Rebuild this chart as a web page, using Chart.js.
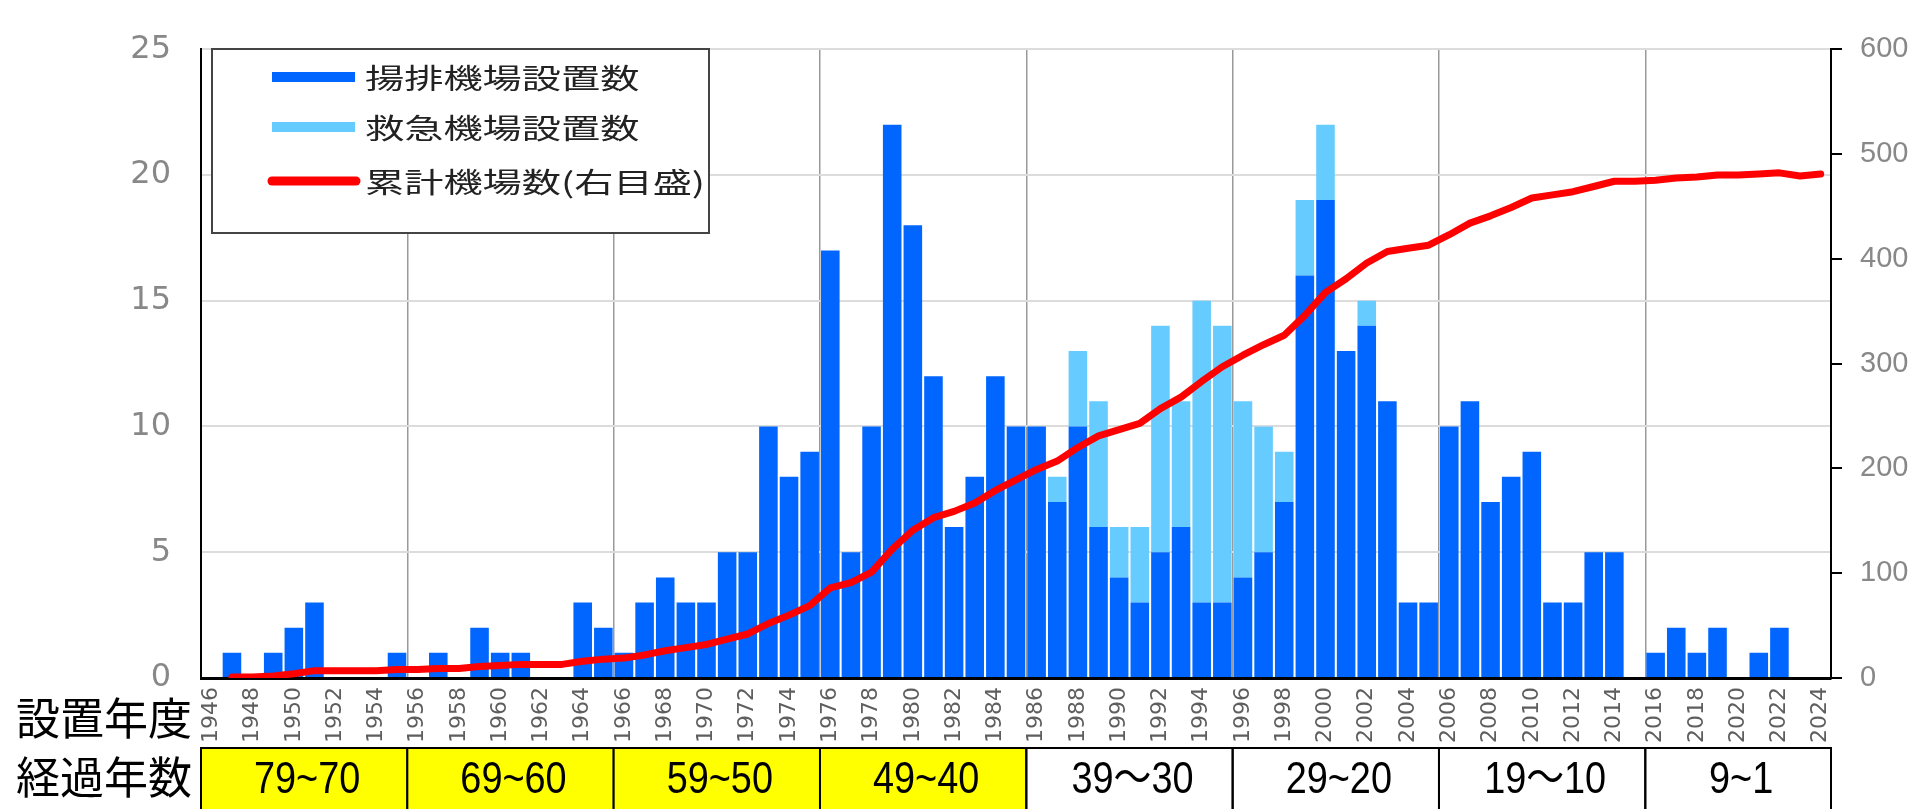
<!DOCTYPE html>
<html lang="ja">
<head>
<meta charset="UTF-8">
<title>機場設置数の推移</title>
<script src="https://cdn.jsdelivr.net/npm/chart.js@4.4.1/dist/chart.umd.min.js"></script>
<style>
  html, body { margin: 0; padding: 0; background: #fff; }
  #wrap { width: 1923px; height: 809px; }
</style>
</head>
<body>
<div id="wrap"><canvas id="kijoChart" width="1923" height="809"></canvas></div>
<script>
// 設置年度
const years = [
  1946, 1947, 1948, 1949, 1950, 1951, 1952, 1953, 1954, 1955,
  1956, 1957, 1958, 1959, 1960, 1961, 1962, 1963, 1964, 1965,
  1966, 1967, 1968, 1969, 1970, 1971, 1972, 1973, 1974, 1975,
  1976, 1977, 1978, 1979, 1980, 1981, 1982, 1983, 1984, 1985,
  1986, 1987, 1988, 1989, 1990, 1991, 1992, 1993, 1994, 1995,
  1996, 1997, 1998, 1999, 2000, 2001, 2002, 2003, 2004, 2005,
  2006, 2007, 2008, 2009, 2010, 2011, 2012, 2013, 2014, 2015,
  2016, 2017, 2018, 2019, 2020, 2021, 2022, 2023, 2024
];

// 揚排機場設置数
const yohaiCounts = [
  0, 1, 0, 1, 2, 3, 0, 0, 0, 1,
  0, 1, 0, 2, 1, 1, 0, 0, 3, 2,
  1, 3, 4, 3, 3, 5, 5, 10, 8, 9,
  17, 5, 10, 22, 18, 12, 6, 8, 12, 10,
  10, 7, 10, 6, 4, 3, 5, 6, 3, 3,
  4, 5, 7, 16, 19, 13, 14, 11, 3, 3,
  10, 11, 7, 8, 9, 3, 3, 5, 5, 0,
  1, 2, 1, 2, 0, 1, 2, 0, 0
];

// 救急機場設置数
const kyukyuCounts = [
  0, 0, 0, 0, 0, 0, 0, 0, 0, 0,
  0, 0, 0, 0, 0, 0, 0, 0, 0, 0,
  0, 0, 0, 0, 0, 0, 0, 0, 0, 0,
  0, 0, 0, 0, 0, 0, 0, 0, 0, 0,
  0, 1, 3, 5, 2, 3, 9, 5, 12, 11,
  7, 5, 2, 3, 3, 0, 1, 0, 0, 0,
  0, 0, 0, 0, 0, 0, 0, 0, 0, 0,
  0, 0, 0, 0, 0, 0, 0, 0, 0
];

// 累計機場数（右目盛）
const totalStations = [
  null, 1, 1, 2, 4, 7, 7, 7, 7, 8,
  8, 9, 9, 11, 12, 13, 13, 13, 16, 18,
  19, 22, 26, 29, 32, 37, 42, 52, 60, 69,
  86, 91, 101, 123, 141, 153, 159, 167, 179, 189,
  199, 207, 220, 231, 237, 243, 257, 268, 283, 297,
  308, 318, 327, 346, 368, 381, 396, 407, 410, 413,
  423, 434, 441, 449, 458, 461, 464, 469, 474, 474,
  475, 477, 478, 480, 480, 481, 482, 479, 481
];

// 経過年数の表
const ageLabels = ['79~70', '69~60', '59~50', '49~40', '39～30', '29~20', '19～10', '9~1'];
const ageStartYears = [1946, 1956, 1966, 1976, 1986, 1996, 2006, 2016];
const ageHighlight = [true, true, true, true, false, false, false, false];

const seriesNames = ['揚排機場設置数', '救急機場設置数', '累計機場数(右目盛)'];

const BLUE = '#0066ff';
const LIGHT_BLUE = '#66ccff';
const RED = '#ff0000';

// 凡例（グラフ内の枠）
const boxLegend = {
  id: 'boxLegend',
  afterDraw(chart) {
    const ctx = chart.ctx;
    ctx.save();
    ctx.fillStyle = '#fff';
    ctx.fillRect(212, 49, 497, 184);
    ctx.strokeStyle = '#444';
    ctx.lineWidth = 2;
    ctx.strokeRect(212, 49, 497, 184);

    const rows = [77, 127, 181];
    ctx.fillStyle = BLUE;
    ctx.fillRect(272, rows[0] - 5, 83, 10);
    ctx.fillStyle = LIGHT_BLUE;
    ctx.fillRect(272, rows[1] - 5, 83, 10);
    ctx.strokeStyle = RED;
    ctx.lineWidth = 9;
    ctx.lineCap = 'round';
    ctx.beginPath();
    ctx.moveTo(272, rows[2]);
    ctx.lineTo(356, rows[2]);
    ctx.stroke();

    ctx.fillStyle = '#222';
    ctx.font = '28px "Noto Sans CJK JP"';
    ctx.textBaseline = 'middle';
    ctx.textAlign = 'left';
    seriesNames.forEach((name, i) => {
      ctx.save();
      ctx.translate(365, rows[i]);
      ctx.scale(1.4, 1);
      ctx.fillText(name, 0, 1);
      ctx.restore();
    });
    ctx.restore();
  }
};

// 下の表（設置年度・経過年数）
const ageTable = {
  id: 'ageTable',
  afterDraw(chart) {
    const ctx = chart.ctx;
    const x = chart.scales.x;
    ctx.save();
    ctx.fillStyle = '#000';
    ctx.font = '44px "Noto Sans CJK JP"';
    ctx.textAlign = 'left';
    ctx.textBaseline = 'middle';
    ctx.fillText('設置年度', 16, 718);
    ctx.fillText('経過年数', 16, 777);

    const top = 748, bottom = 812;
    ageLabels.forEach((label, i) => {
      const startIdx = years.indexOf(ageStartYears[i]);
      const endIdx = i < ageStartYears.length - 1 ? years.indexOf(ageStartYears[i + 1]) : years.length;
      const left = x.getPixelForValue(startIdx - 0.5);
      const right = x.getPixelForValue(endIdx - 0.5);
      if (ageHighlight[i]) {
        ctx.fillStyle = '#ffff00';
        ctx.fillRect(left, top, right - left, bottom - top);
      }
      ctx.strokeStyle = '#000';
      ctx.lineWidth = 2;
      ctx.strokeRect(left, top, right - left, bottom - top);
      ctx.fillStyle = '#000';
      ctx.font = '44px "Liberation Sans", "Noto Sans CJK JP"';
      ctx.textAlign = 'center';
      ctx.save();
      ctx.translate((left + right) / 2 + 3, 781);
      ctx.scale(0.86, 1);
      ctx.fillText(label, 0, 0);
      ctx.restore();
    });
    ctx.restore();
  }
};

new Chart(document.getElementById('kijoChart'), {
  data: {
    labels: years,
    datasets: [
      {
        type: 'line',
        label: seriesNames[2],
        data: totalStations,
        yAxisID: 'y1',
        borderColor: RED,
        borderWidth: 7,
        pointRadius: 0,
        tension: 0,
        borderJoinStyle: 'round',
        borderCapStyle: 'round',
        order: 0
      },
      {
        type: 'bar',
        label: seriesNames[0],
        data: yohaiCounts,
        yAxisID: 'y',
        backgroundColor: BLUE,
        barPercentage: 0.9,
        categoryPercentage: 1.0,
        order: 1
      },
      {
        type: 'bar',
        label: seriesNames[1],
        data: kyukyuCounts,
        yAxisID: 'y',
        backgroundColor: LIGHT_BLUE,
        barPercentage: 0.9,
        categoryPercentage: 1.0,
        order: 1
      }
    ]
  },
  options: {
    responsive: false,
    animation: false,
    devicePixelRatio: 1,
    layout: { padding: { top: 22, left: 0, right: 0, bottom: 0 } },
    plugins: {
      legend: { display: false },
      tooltip: { enabled: false },
      title: { display: false }
    },
    scales: {
      x: {
        stacked: true,
        offset: true,
        afterFit: (scale) => { scale.height = 131; },
        grid: {
          offset: true,
          drawTicks: false,
          lineWidth: 1.5,
          color: (c) => (c.index !== undefined && c.index > 0 && c.index % 10 === 0) ? '#999' : 'rgba(0,0,0,0)'
        },
        border: { display: true, color: '#000', width: 3 },
        ticks: {
          autoSkip: false,
          minRotation: 90,
          maxRotation: 90,
          padding: 9,
          color: '#5e5e5e',
          font: { family: '"DejaVu Sans"', size: 22 },
          callback: (val, idx) => idx % 2 === 0 ? String(years[idx]) : ''
        }
      },
      y: {
        position: 'left',
        stacked: true,
        min: 0,
        max: 25,
        afterFit: (scale) => { scale.width = 201; },
        grid: { drawTicks: false, color: '#dcdcdc', lineWidth: 2 },
        border: { display: true, color: '#000', width: 2 },
        ticks: {
          stepSize: 5,
          padding: 30,
          color: '#888',
          font: { family: '"DejaVu Sans"', size: 32 }
        }
      },
      y1: {
        position: 'right',
        min: 0,
        max: 600,
        afterFit: (scale) => { scale.width = 92; },
        grid: { drawOnChartArea: false, drawTicks: true, tickLength: 11, color: '#000', lineWidth: 2 },
        border: { display: true, color: '#000', width: 2 },
        ticks: {
          stepSize: 100,
          padding: 18,
          color: '#888',
          font: { family: '"Liberation Sans"', size: 29 }
        }
      }
    }
  },
  plugins: [ageTable, boxLegend]
});
</script>
</body>
</html>
